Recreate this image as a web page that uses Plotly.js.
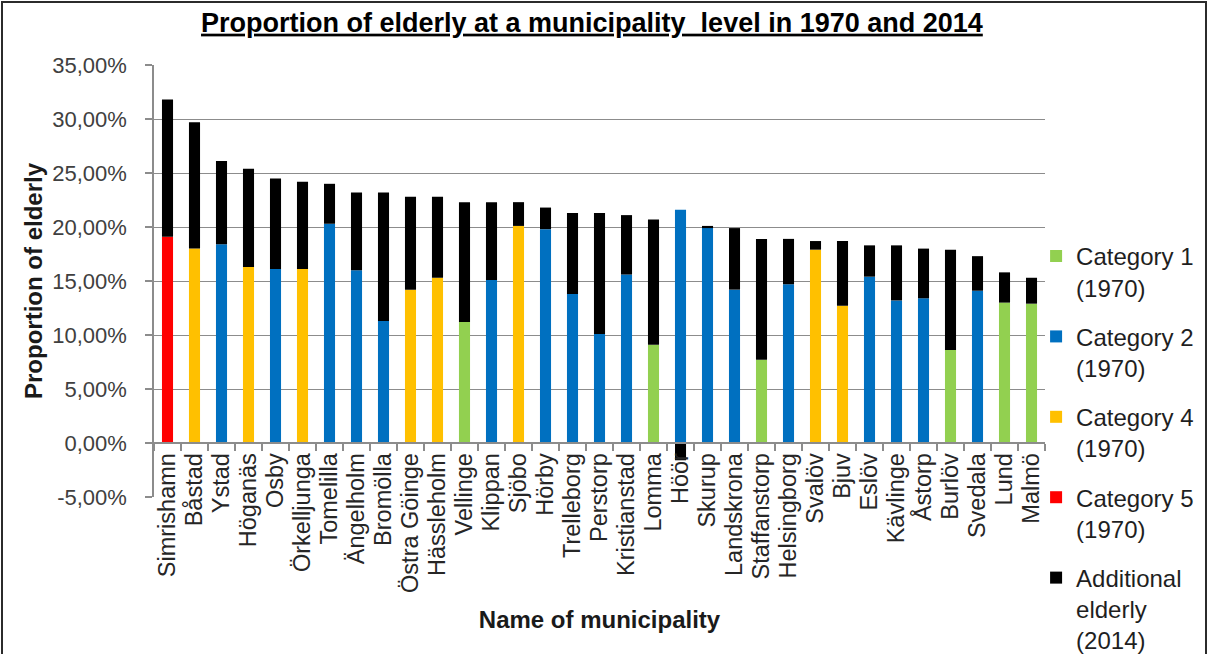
<!DOCTYPE html>
<html>
<head>
<meta charset="utf-8">
<script src="https://cdn.plot.ly/plotly-3.0.1.min.js"></script>
<style>
  html, body { margin: 0; padding: 0; background: #ffffff; overflow: hidden; }
  #chart { width: 1208px; height: 654px; }
  #frame {
    position: absolute; left: 1px; top: 1px; width: 1202px; height: 700px;
    border: 2px solid #2b2b2b; pointer-events: none;
  }
</style>
</head>
<body>
<div id="chart"></div>
<div id="frame"></div>
<script>
// Municipalities, ordered by share of elderly in 2014
const municipalities = [
  "Simrishamn", "Båstad", "Ystad", "Höganäs", "Osby", "Örkelljunga", "Tomelilla",
  "Ängelholm", "Bromölla", "Östra Göinge", "Hässleholm", "Vellinge", "Klippan",
  "Sjöbo", "Hörby", "Trelleborg", "Perstorp", "Kristianstad", "Lomma", "Höör",
  "Skurup", "Landskrona", "Staffanstorp", "Helsingborg", "Svalöv", "Bjuv", "Eslöv",
  "Kävlinge", "Åstorp", "Burlöv", "Svedala", "Lund", "Malmö"
];

// Share of elderly in 1970 (%)
const share1970 = [
  19.1, 18.0, 18.4, 16.3, 16.1, 16.1, 20.3,
  16.0, 11.3, 14.2, 15.3, 11.2, 15.1,
  20.1, 19.8, 13.8, 10.1, 15.6, 9.1, 21.6,
  19.9, 14.2, 7.7, 14.7, 17.9, 12.7, 15.4,
  13.2, 13.4, 8.6, 14.1, 13.0, 12.9
];

// Municipality category in 1970
const category1970 = [
  5, 4, 2, 4, 2, 4, 2,
  2, 2, 4, 4, 1, 2,
  4, 2, 2, 2, 2, 1, 2,
  2, 2, 1, 2, 4, 4, 2,
  2, 2, 1, 2, 1, 1
];

// Change in share of elderly from 1970 to 2014 (percentage points)
const additional2014 = [
  12.7, 11.7, 7.7, 9.1, 8.4, 8.1, 3.7,
  7.2, 11.9, 8.6, 7.5, 11.1, 7.2,
  2.2, 2.0, 7.5, 11.2, 5.5, 11.6, -1.6,
  0.2, 5.7, 11.2, 4.2, 0.8, 6.0, 2.9,
  5.1, 4.6, 9.3, 3.2, 2.8, 2.4
];

const categories = [1, 2, 4, 5];
const categoryNames = ["Category 1<br>(1970)", "Category 2<br>(1970)", "Category 4<br>(1970)", "Category 5<br>(1970)"];
const categoryColors = ["#92D050", "#0070C0", "#FFC000", "#FF0000"];

const yTickVals = [-5, 0, 5, 10, 15, 20, 25, 30, 35];
const yTickText = ["-5,00%", "0,00%", "5,00%", "10,00%", "15,00%", "20,00%", "25,00%", "30,00%", "35,00%"];

const FONT = "'Liberation Sans', Arial, sans-serif";
const GRID = "#8c8c8c";

const traces = categories.map((c, i) => ({
  type: "bar",
  name: categoryNames[i],
  legendgroup: "g" + c,
  x: municipalities,
  y: share1970.map((v, k) => (category1970[k] === c ? v : null)),
  marker: { color: categoryColors[i], line: { width: 0 } },
  hovertemplate: "%{x}: %{y:.1f}%<extra></extra>"
}));

traces.push({
  type: "bar",
  name: "Additional<br>elderly<br>(2014)",
  legendgroup: "gadd",
  x: municipalities,
  y: additional2014,
  marker: { color: "#000000", line: { width: 0 } },
  hovertemplate: "%{x}: %{y:.1f}%<extra></extra>"
});

const layout = {
  width: 1208,
  height: 654,
  paper_bgcolor: "#ffffff",
  plot_bgcolor: "#ffffff",
  barmode: "relative",
  bargap: 0.59,
  margin: { l: 154, r: 163, t: 65, b: 157, autoexpand: false },
  font: { family: FONT, size: 22, color: "#262626" },
  title: {
    text: "<b><u>Proportion of elderly at a municipality  level in 1970 and 2014</u></b>",
    font: { family: FONT, size: 27, color: "#000000" },
    x: 0.49, xref: "container", xanchor: "center",
    y: 0.966, yref: "container", yanchor: "middle"
  },
  xaxis: {
    type: "category",
    categoryorder: "array",
    categoryarray: municipalities,
    tickmode: "linear", tick0: 0, dtick: 1,
    anchor: "free",
    position: 0.125,
    showline: true, linecolor: GRID, linewidth: 1.5,
    showgrid: false, zeroline: false,
    ticks: "outside", tickson: "boundaries", ticklen: 7, tickcolor: GRID, tickwidth: 1.5,
    tickangle: -90,
    tickfont: { family: FONT, size: 23.5, color: "#262626" },
    automargin: false,
    title: {
      text: "<b>Name of municipality</b>",
      font: { family: FONT, size: 24, color: "#1a1a1a" },
      standoff: 18
    }
  },
  yaxis: {
    range: [-5, 35],
    tickvals: yTickVals,
    ticktext: yTickText,
    showline: true, linecolor: GRID, linewidth: 1.5,
    showgrid: true, gridcolor: GRID, gridwidth: 1.3,
    zeroline: false,
    ticks: "outside", ticklen: 7, tickcolor: GRID, tickwidth: 1.5,
    ticklabelstandoff: 14,
    tickfont: { family: FONT, size: 22, color: "#404040" },
    automargin: false,
    title: {
      text: "<b>Proportion of elderly</b>",
      font: { family: FONT, size: 24, color: "#1a1a1a" },
      standoff: 3
    }
  },
  legend: {
    x: 0.99, xanchor: "left",
    y: 0.609, yanchor: "top",
    traceorder: "grouped",
    tracegroupgap: 15,
    valign: "top",
    font: { family: FONT, size: 24, color: "#1f1f1f" },
    bgcolor: "rgba(0,0,0,0)"
  },
  showlegend: true
};

Plotly.newPlot("chart", traces, layout, { displayModeBar: false, responsive: false });
</script>
</body>
</html>
